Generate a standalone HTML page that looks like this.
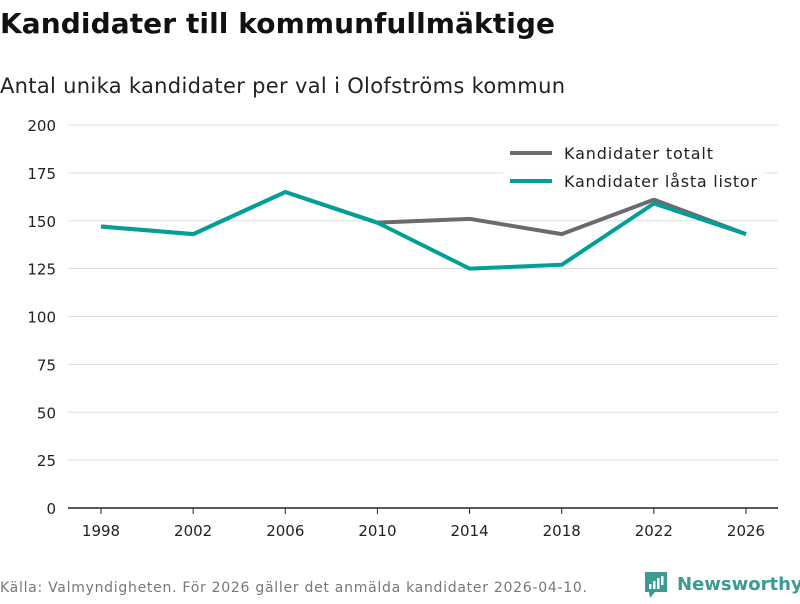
<!DOCTYPE html>
<html><head><meta charset="utf-8"><style>
body{margin:0;background:#fff;font-family:"DejaVu Sans","Liberation Sans",sans-serif;}
svg text{font-family:"DejaVu Sans","Liberation Sans",sans-serif;}
</style></head><body>
<svg id="c" width="800" height="600" xmlns="http://www.w3.org/2000/svg">
<text x="0" y="33" font-size="28" font-weight="bold" fill="#111" textLength="555">Kandidater till kommunfullmäktige</text>
<text x="0" y="93" font-size="21" fill="#222" textLength="565">Antal unika kandidater per val i Olofströms kommun</text>
<g id="grid"></g><g id="xax"></g><g id="lines"></g>
<g>
<rect x="503" y="140" width="262" height="58" fill="#fff" opacity="0.85"/>
<line x1="510" y1="153" x2="552" y2="153" stroke="#6b6a70" stroke-width="4"/>
<text x="564" y="159" font-size="16" fill="#222" textLength="149">Kandidater totalt</text>
<line x1="510" y1="181" x2="552" y2="181" stroke="#00a09a" stroke-width="4"/>
<text x="564" y="187" font-size="16" fill="#222" textLength="193">Kandidater låsta listor</text>
</g>
<text x="0" y="592" font-size="14" fill="#777" textLength="587">Källa: Valmyndigheten. För 2026 gäller det anmälda kandidater 2026-04-10.</text>
<g>
<path d="M645 572 h22 v20 h-12 l-5 6 l-1 -6 h-4 z" fill="#3b9b93"/>
<rect x="649" y="584" width="2.5" height="5" fill="#fff"/><rect x="653" y="581" width="2.5" height="8" fill="#fff"/><rect x="657" y="578" width="2.5" height="11" fill="#fff"/><rect x="661" y="576" width="2.5" height="9" fill="#fff"/>
<text x="677" y="590" font-size="18" font-weight="bold" fill="#3b9b93">Newsworthy</text>
</g>
</svg>
<script>
const years=[1998,2002,2006,2010,2014,2018,2022,2026];
const totalt=[147,143,165,149,151,143,161,143];
const lasta=[147,143,165,149,125,127,159,143];
const yTicks=[0,25,50,75,100,125,150,175,200];
const NS="http://www.w3.org/2000/svg";
const x=v=>101+(v-1998)*(645/28);
const y=v=>508-v*(383/200);
const grid=document.getElementById('grid');
yTicks.forEach(t=>{
 const l=document.createElementNS(NS,'line');
 l.setAttribute('x1',68);l.setAttribute('x2',778);l.setAttribute('y1',y(t));l.setAttribute('y2',y(t));
 l.setAttribute('stroke',t===0?'#222':'#ddd');l.setAttribute('stroke-width',t===0?1.5:1);
 
 
 grid.appendChild(l);
 const tx=document.createElementNS(NS,'text');
 tx.setAttribute('x',56);tx.setAttribute('y',y(t)+6);tx.setAttribute('text-anchor','end');
 tx.setAttribute('font-size','15');tx.setAttribute('fill','#222');tx.textContent=t;
 
 
 grid.appendChild(tx);
});
const xax=document.getElementById('xax');
years.forEach(yr=>{
 const l=document.createElementNS(NS,'line');
 l.setAttribute('x1',x(yr));l.setAttribute('x2',x(yr));l.setAttribute('y1',508);l.setAttribute('y2',514);
 l.setAttribute('stroke','#222');
 
 
 xax.appendChild(l);
 const tx=document.createElementNS(NS,'text');
 tx.setAttribute('x',x(yr));tx.setAttribute('y',536);tx.setAttribute('text-anchor','middle');
 tx.setAttribute('font-size','15');tx.setAttribute('fill','#222');tx.textContent=yr;
 
 
 xax.appendChild(tx);
});
const lines=document.getElementById('lines');
function draw(vals,color,name){
 const p=document.createElementNS(NS,'polyline');
 p.setAttribute('points',vals.map((v,i)=>x(years[i])+','+y(v)).join(' '));
 p.setAttribute('fill','none');p.setAttribute('stroke',color);p.setAttribute('stroke-width',4);
 p.setAttribute('stroke-linejoin','round');
 
 
 lines.appendChild(p);
}
draw(totalt,'#6b6a70','line-kandidater-totalt');
draw(lasta,'#00a09a','line-kandidater-lasta-listor');
</script>
</body></html>
